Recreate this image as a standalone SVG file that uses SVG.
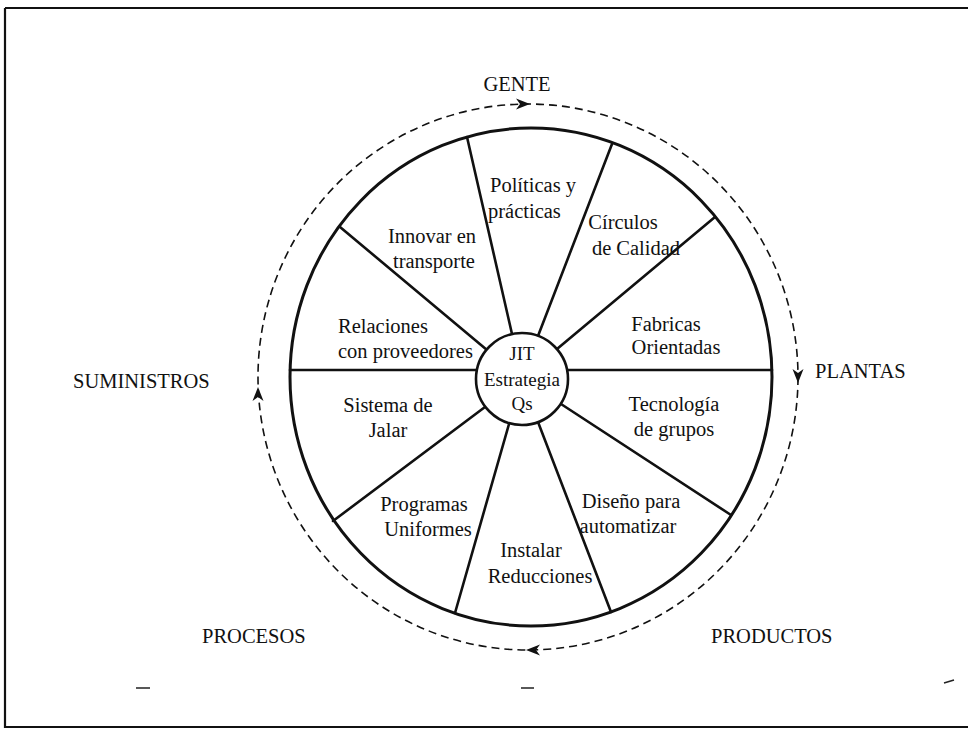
<svg xmlns="http://www.w3.org/2000/svg" width="968" height="730" viewBox="0 0 968 730">
  <style>
    .lbl { font-family: "Liberation Serif", "Times New Roman", serif; font-size: 20.5px; fill: #111; }
    .mid { text-anchor: middle; }
    .hubtxt { font-family: "Liberation Serif", "Times New Roman", serif; font-size: 19px; fill: #111; text-anchor: middle; }
    .rim { fill: none; stroke: #111; stroke-width: 3; }
    .spoke { stroke: #111; stroke-width: 2.6; stroke-linecap: round; }
    .cycle { fill: none; stroke: #111; stroke-width: 1.6; stroke-dasharray: 8 5; }
    .frame { stroke: #111; stroke-width: 2.2; fill: none; }
  </style>
  <defs>
    <!-- arrowhead pointing along +x, tip at origin -->
    <path id="head" d="M0 0 L-14 -5.5 L-10 0 L-14 5.5 Z" fill="#111"/>
  </defs>

  <rect width="968" height="730" fill="#fff"/>

  <!-- page frame -->
  <g id="frame">
    <path class="frame" d="M5 8 H968 M5 8 V727 H968"/>
    <!-- small stray marks near the bottom edge -->
    <path d="M136 688 h14 M521 688 h13 M944 683 l10 -3" stroke="#222" stroke-width="1.6"/>
  </g>

  <!-- wheel rim and spokes -->
  <g id="wheel">
    <ellipse class="rim" cx="531" cy="377" rx="241" ry="249"/>
    <line class="spoke" x1="512" y1="334" x2="467" y2="137"/>
    <line class="spoke" x1="538" y1="336" x2="612" y2="144"/>
    <line class="spoke" x1="557" y1="349" x2="715" y2="217"/>
    <line class="spoke" x1="567" y1="370" x2="772" y2="370"/>
    <line class="spoke" x1="561" y1="404" x2="731" y2="515"/>
    <line class="spoke" x1="538" y1="422" x2="611" y2="612"/>
    <line class="spoke" x1="509" y1="424" x2="455" y2="613"/>
    <line class="spoke" x1="485" y1="407" x2="333" y2="521"/>
    <line class="spoke" x1="290" y1="370" x2="477" y2="370"/>
    <line class="spoke" x1="487" y1="350" x2="340" y2="227"/>
  </g>

  <!-- hub -->
  <g id="hub">
    <circle cx="522" cy="379" r="46" fill="#fff" stroke="#111" stroke-width="2.6"/>
    <text class="hubtxt" x="522" y="360">JIT</text>
    <text class="hubtxt" x="522" y="386">Estrategia</text>
    <text class="hubtxt" x="522" y="410">Qs</text>
  </g>

  <!-- segment labels -->
  <g id="seg-politicas">
    <text class="lbl" x="490" y="192">Políticas y</text>
    <text class="lbl" x="488" y="218">prácticas</text>
  </g>
  <g id="seg-circulos">
    <text class="lbl mid" x="623" y="229">Círculos</text>
    <text class="lbl mid" x="636" y="255">de Calidad</text>
  </g>
  <g id="seg-fabricas">
    <text class="lbl mid" x="666" y="331">Fabricas</text>
    <text class="lbl mid" x="676" y="354">Orientadas</text>
  </g>
  <g id="seg-tecnologia">
    <text class="lbl mid" x="674" y="411">Tecnología</text>
    <text class="lbl mid" x="674" y="436">de grupos</text>
  </g>
  <g id="seg-diseno">
    <text class="lbl mid" x="631" y="508">Diseño para</text>
    <text class="lbl mid" x="628" y="533">automatizar</text>
  </g>
  <g id="seg-instalar">
    <text class="lbl mid" x="531" y="557">Instalar</text>
    <text class="lbl mid" x="540" y="583">Reducciones</text>
  </g>
  <g id="seg-programas">
    <text class="lbl mid" x="424" y="511">Programas</text>
    <text class="lbl mid" x="428" y="536">Uniformes</text>
  </g>
  <g id="seg-sistema">
    <text class="lbl mid" x="388" y="412">Sistema de</text>
    <text class="lbl mid" x="388" y="437">Jalar</text>
  </g>
  <g id="seg-relaciones">
    <text class="lbl" x="338" y="333">Relaciones</text>
    <text class="lbl" x="338" y="358">con proveedores</text>
  </g>
  <g id="seg-innovar">
    <text class="lbl mid" x="432" y="243">Innovar en</text>
    <text class="lbl mid" x="434" y="268">transporte</text>
  </g>

  <!-- dashed clockwise cycle around the wheel -->
  <g id="connectors">
    <ellipse class="cycle" cx="528" cy="377" rx="270" ry="273"/>
    <use href="#head" transform="translate(530 104)"/>
    <use href="#head" transform="translate(798 383) rotate(90)"/>
    <use href="#head" transform="translate(526 650) rotate(180)"/>
    <use href="#head" transform="translate(258 387) rotate(-90)"/>
  </g>

  <!-- outer perspectives -->
  <g id="gente"><text class="lbl mid" x="517" y="91">GENTE</text></g>
  <g id="plantas"><text class="lbl" x="815" y="378">PLANTAS</text></g>
  <g id="productos"><text class="lbl" x="711" y="643">PRODUCTOS</text></g>
  <g id="procesos"><text class="lbl" x="202" y="643">PROCESOS</text></g>
  <g id="suministros"><text class="lbl" x="73" y="388">SUMINISTROS</text></g>
</svg>
